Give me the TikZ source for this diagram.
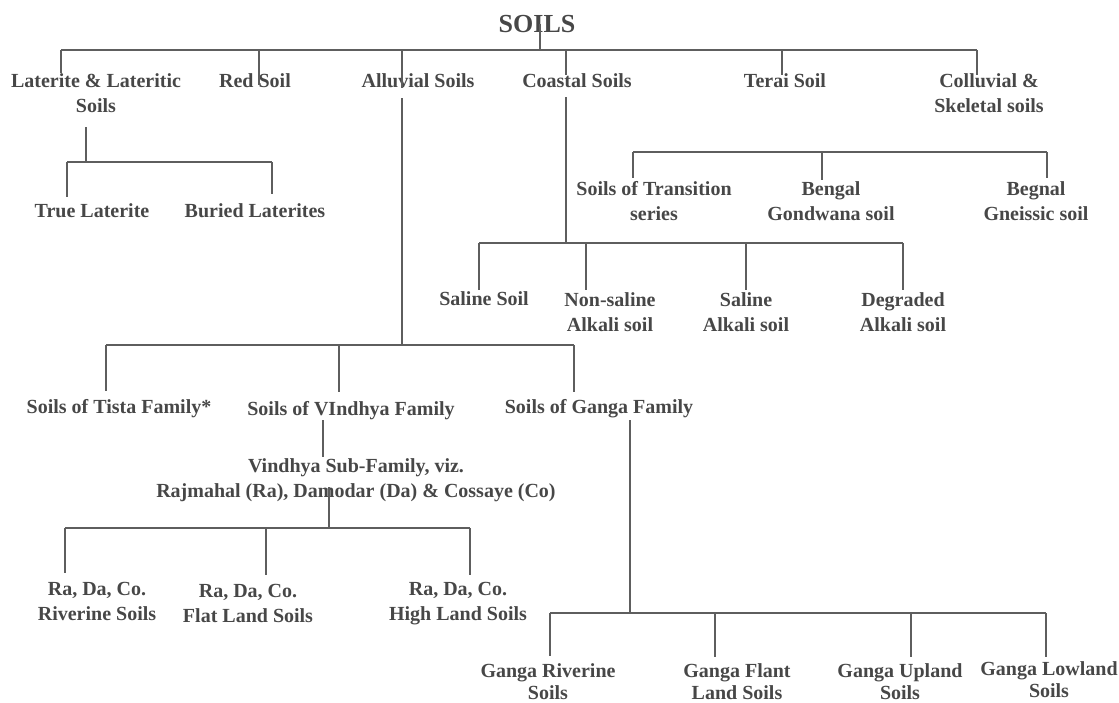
\documentclass[tikz,border=0pt]{standalone}
\usepackage{fontspec}
\setmainfont{Liberation Serif}
\definecolor{txt}{HTML}{474747}
\definecolor{linec}{HTML}{5E5E5E}
\begin{document}
\begin{tikzpicture}[x=1pt,y=-1pt,
  ln/.style={draw=linec, line width=1.5pt},
  lbl/.style={text=txt, font=\fontsize{20}{25}\selectfont\bfseries, align=center, inner sep=0pt, anchor=base},
  low/.style={text=txt, font=\fontsize{20}{22}\selectfont\bfseries, align=center, inner sep=0pt, anchor=base},
  ttl/.style={text=txt, font=\fontsize{26}{30}\selectfont\bfseries, inner sep=0pt, anchor=base}]
\useasboundingbox (0,0) rectangle (1119,702);
% ---------- nodes (base = baseline of last line) ----------
\node[ttl] (soils) at (537,32) {SOILS};
\node[lbl] (lat) at (96,112) {Laterite \& Lateritic\\Soils};
\node[lbl] (red) at (255,87) {Red Soil};
\node[lbl] (all) at (418,87) {Alluvial Soils};
\node[lbl] (coa) at (577,87) {Coastal Soils};
\node[lbl] (ter) at (785,87) {Terai Soil};
\node[lbl] (col) at (989,112) {Colluvial \&\\Skeletal soils};
\node[lbl] (tru) at (92,217) {True Laterite};
\node[lbl] (bur) at (255,217) {Buried Laterites};
\node[lbl] (tra) at (654,220) {Soils of Transition\\series};
\node[lbl] (gon) at (831,220) {Bengal\\Gondwana soil};
\node[lbl] (gne) at (1036,220) {Begnal\\Gneissic soil};
\node[lbl] (sal) at (484,305) {Saline Soil};
\node[lbl] (nsa) at (610,331) {Non-saline\\Alkali soil};
\node[lbl] (sak) at (746,331) {Saline\\Alkali soil};
\node[lbl] (deg) at (903,331) {Degraded\\Alkali soil};
\node[lbl] (tis) at (119,413) {Soils of Tista Family*};
\node[lbl] (vin) at (351,415) {Soils of VIndhya Family};
\node[lbl] (gan) at (599,413) {Soils of Ganga Family};
\node[lbl] (sub) at (356,497) {Vindhya Sub-Family, viz.\\Rajmahal (Ra), Damodar (Da) \& Cossaye (Co)};
\node[lbl] (riv) at (97,620) {Ra, Da, Co.\\Riverine Soils};
\node[lbl] (fla) at (248,622) {Ra, Da, Co.\\Flat Land Soils};
\node[lbl] (hig) at (458,620) {Ra, Da, Co.\\High Land Soils};
\node[low] (gri) at (548,699) {Ganga Riverine\\Soils};
\node[low] (gfl) at (737,699) {Ganga Flant\\Land Soils};
\node[low] (gup) at (900,699) {Ganga Upland\\Soils};
\node[low] (glo) at (1049,697) {Ganga Lowland\\Soils};
% ---------- connector points ----------
\coordinate (soils-b) at (540,24);  \coordinate (j0) at (540,50);
\coordinate (lat-t) at (61,73);  \coordinate (red-t) at (259,85);
\coordinate (all-t) at (402,88); \coordinate (coa-t) at (566,75);
\coordinate (ter-t) at (782,75); \coordinate (col-t) at (977,75);
\coordinate (lat-b) at (86,127); \coordinate (j1) at (86,162);
\coordinate (tru-t) at (67,197); \coordinate (bur-t) at (272,194);
\coordinate (all-b) at (402,98); \coordinate (j2) at (402,345);
\coordinate (tis-t) at (106,391); \coordinate (vin-t) at (339,392); \coordinate (gan-t) at (574,392);
\coordinate (coa-b) at (566,97); \coordinate (j3) at (566,243);
\coordinate (sal-t) at (479,290); \coordinate (nsa-t) at (586,290);
\coordinate (sak-t) at (746,290); \coordinate (deg-t) at (903,290);
\coordinate (j4) at (822,152);
\coordinate (tra-t) at (633,178); \coordinate (gon-t) at (822,180); \coordinate (gne-t) at (1047,178);
\coordinate (vin-b) at (323,420); \coordinate (sub-t) at (323,457);
\coordinate (sub-b) at (329,487); \coordinate (j5) at (329,528);
\coordinate (riv-t) at (65,573); \coordinate (fla-t) at (266,575); \coordinate (hig-t) at (470,575);
\coordinate (gan-b) at (630,420); \coordinate (j6) at (630,613);
\coordinate (gri-t) at (550,656); \coordinate (gfl-t) at (715,657);
\coordinate (gup-t) at (911,657); \coordinate (glo-t) at (1046,657);
% ---------- connectors ----------
% SOILS
\draw[ln] (soils-b) -- (j0);
\draw[ln] (lat-t |- j0) -- (col-t |- j0);
\foreach \c in {lat,red,all,coa,ter,col} \draw[ln] (\c-t |- j0) -- (\c-t);
% Laterite
\draw[ln] (lat-b) -- (j1);
\draw[ln] (tru-t |- j1) -- (bur-t |- j1);
\foreach \c in {tru,bur} \draw[ln] (\c-t |- j1) -- (\c-t);
% Alluvial
\draw[ln] (all-b) -- (j2);
\draw[ln] (tis-t |- j2) -- (gan-t |- j2);
\foreach \c in {tis,vin,gan} \draw[ln] (\c-t |- j2) -- (\c-t);
% Coastal
\draw[ln] (coa-b) -- (j3);
\draw[ln] (sal-t |- j3) -- (deg-t |- j3);
\foreach \c in {sal,nsa,sak,deg} \draw[ln] (\c-t |- j3) -- (\c-t);
% Transition bracket
\draw[ln] (tra-t |- j4) -- (gne-t |- j4);
\foreach \c in {tra,gon,gne} \draw[ln] (\c-t |- j4) -- (\c-t);
% Vindhya
\draw[ln] (vin-b) -- (sub-t);
\draw[ln] (sub-b) -- (j5);
\draw[ln] (riv-t |- j5) -- (hig-t |- j5);
\foreach \c in {riv,fla,hig} \draw[ln] (\c-t |- j5) -- (\c-t);
% Ganga
\draw[ln] (gan-b) -- (j6);
\draw[ln] (gri-t |- j6) -- (glo-t |- j6);
\foreach \c in {gri,gfl,gup,glo} \draw[ln] (\c-t |- j6) -- (\c-t);
\end{tikzpicture}
\end{document}
